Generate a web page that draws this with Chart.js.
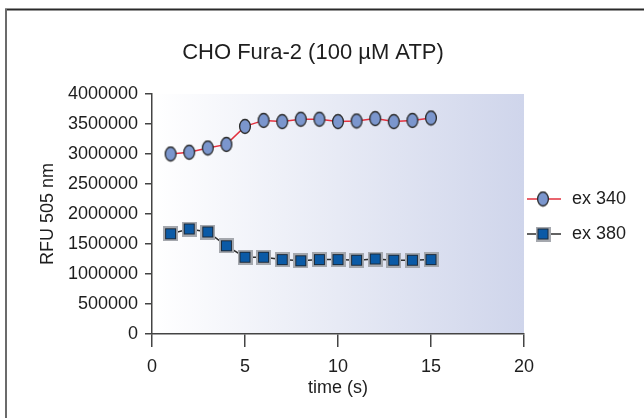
<!DOCTYPE html>
<html>
<head>
<meta charset="utf-8">
<script src="https://cdn.jsdelivr.net/npm/chart.js@4.4.1/dist/chart.umd.min.js"></script>
<style>
  body { margin: 0; background: #fff; }
  #chart { display: block; }
</style>
</head>
<body>
<canvas id="chart" width="644" height="418"></canvas>
<script>
// data
var times = [1, 2, 3, 4, 5, 6, 7, 8, 9, 10, 11, 12, 13, 14, 15];
var ex340 = [3000000, 3030000, 3100000, 3160000, 3460000, 3560000, 3540000, 3580000, 3580000, 3540000, 3550000, 3590000, 3540000, 3560000, 3600000];
var ex380 = [1670000, 1750000, 1700000, 1470000, 1280000, 1280000, 1240000, 1220000, 1240000, 1240000, 1230000, 1250000, 1230000, 1230000, 1240000];
var seriesNames = ["ex 340", "ex 380"];
var chartTitle = "CHO Fura-2 (100 \u00b5M ATP)";

var FONT = "'Liberation Sans', Arial, Helvetica, sans-serif";

// marker images
function ellipseMarker() {
  var c = document.createElement('canvas');
  c.width = 14; c.height = 17;
  var g = c.getContext('2d');
  g.beginPath();
  g.ellipse(7, 8.5, 5.4, 7, 0, 0, Math.PI * 2);
  g.fillStyle = '#7b96cd';
  g.fill();
  g.lineWidth = 1.3;
  g.strokeStyle = '#2a2a2a';
  g.stroke();
  return c;
}
function squareMarker() {
  var c = document.createElement('canvas');
  c.width = 15; c.height = 15;
  var g = c.getContext('2d');
  g.fillStyle = '#a5a8ae';
  g.fillRect(0, 0, 15, 15);
  g.fillStyle = '#0b5aa6';
  g.fillRect(2, 2, 11, 11);
  g.lineWidth = 1;
  g.strokeStyle = '#1c2a3a';
  g.strokeRect(2.5, 2.5, 10, 10);
  return c;
}
var circ = ellipseMarker();
var sq = squareMarker();

function pts(vals) {
  return times.map(function (t, i) { return { x: t, y: vals[i] }; });
}

var decor = {
  id: 'decor',
  beforeDraw: function (chart) {
    var ctx = chart.ctx, a = chart.chartArea;
    ctx.save();
    var grad = ctx.createLinearGradient(a.left, 0, a.right, 0);
    grad.addColorStop(0, '#ffffff');
    grad.addColorStop(1, '#cfd5eb');
    ctx.fillStyle = grad;
    ctx.fillRect(a.left, a.top, a.right - a.left, a.bottom - a.top);
    ctx.restore();
  },
  afterDraw: function (chart) {
    var ctx = chart.ctx;
    ctx.save();
    // frame
    ctx.strokeStyle = '#2a2a2a';
    ctx.lineWidth = 2;
    ctx.beginPath(); ctx.moveTo(5, 9.5); ctx.lineTo(644, 9.5); ctx.stroke();
    ctx.strokeStyle = '#6b6b6b';
    ctx.beginPath(); ctx.moveTo(6, 9); ctx.lineTo(6, 418); ctx.stroke();
    // title
    ctx.fillStyle = '#1e1e1e';
    ctx.font = '22px ' + FONT;
    ctx.textAlign = 'center';
    ctx.textBaseline = 'middle';
    ctx.fillText(chartTitle, 313, 53);
    // legend
    var ds = chart.data.datasets;
    var ys = [199, 234];
    ctx.font = '18px ' + FONT;
    ctx.textAlign = 'left';
    for (var i = 0; i < ds.length; i++) {
      ctx.strokeStyle = ds[i].borderColor;
      ctx.lineWidth = 1.5;
      ctx.beginPath(); ctx.moveTo(527, ys[i]); ctx.lineTo(561, ys[i]); ctx.stroke();
      var img = ds[i].pointStyle;
      ctx.drawImage(img, 543 - img.width / 2, ys[i] - img.height / 2);
      ctx.fillStyle = '#1e1e1e';
      ctx.fillText(ds[i].label, 572, ys[i]);
    }
    ctx.restore();
  }
};

new Chart(document.getElementById('chart'), {
  type: 'line',
  data: {
    datasets: [{
      label: seriesNames[0],
      data: pts(ex340),
      borderColor: '#e2303e',
      borderWidth: 1.5,
      pointStyle: circ,
      pointRadius: 7
    }, {
      label: seriesNames[1],
      data: pts(ex380),
      borderColor: '#2e2e2e',
      borderWidth: 1.5,
      pointStyle: sq,
      pointRadius: 7
    }]
  },
  options: {
    responsive: false,
    animation: false,
    layout: { padding: { left: 33, right: 120, top: 94, bottom: 14 } },
    plugins: { legend: { display: false }, title: { display: false }, tooltip: { enabled: false } },
    scales: {
      x: {
        type: 'linear', min: 0, max: 20,
        afterFit: function (s) { s.height = 70; },
        ticks: { stepSize: 5, padding: 9, color: '#1e1e1e', font: { family: FONT, size: 18 }, maxRotation: 0 },
        grid: { drawOnChartArea: false, drawTicks: true, tickLength: 13, color: '#444', lineWidth: 1.5 },
        border: { color: '#444', width: 1.5 },
        title: { display: true, text: 'time (s)', color: '#1e1e1e', font: { family: FONT, size: 18 }, padding: { top: 0, bottom: 5 } }
      },
      y: {
        min: 0, max: 4000000,
        afterFit: function (s) { s.width = 119; },
        ticks: { stepSize: 500000, padding: 7, color: '#1e1e1e', font: { family: FONT, size: 18 }, callback: function (v) { return String(v); } },
        grid: { drawOnChartArea: false, drawTicks: true, tickLength: 7, color: '#444', lineWidth: 1.5 },
        border: { color: '#444', width: 1.5 },
        title: { display: true, text: 'RFU 505 nm', color: '#1e1e1e', font: { family: FONT, size: 18 }, padding: { top: 4, bottom: 4 } }
      }
    }
  },
  plugins: [decor]
});
</script>
</body>
</html>
